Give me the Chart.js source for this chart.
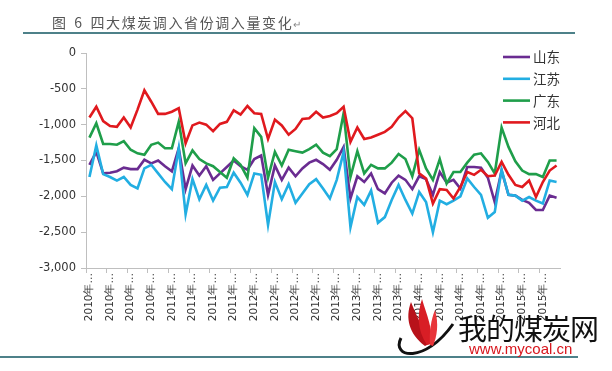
<!DOCTYPE html>
<html>
<head>
<meta charset="utf-8">
<script src="https://cdn.jsdelivr.net/npm/chart.js@4.4.1/dist/chart.umd.min.js"></script>
<style>
  html, body { margin: 0; padding: 0; background: #fff; }
  #wrap { position: relative; width: 612px; height: 371px; overflow: hidden; }
  #chart { position: absolute; left: 0; top: 0; }
  .title { position: absolute; left: 52px; top: 12px; font: 14px "Noto Sans CJK SC", sans-serif; color: #555; letter-spacing: 1.6px; word-spacing: 2px; white-space: nowrap; }
  .title span { font-size: 10px; color: #888; letter-spacing: 0; }
  .rule { position: absolute; height: 2px; background: #4d8189; }
  .mark { position: absolute; left: 458px; top: 306px; font: 29px "Noto Sans CJK SC", sans-serif; color: #111; letter-spacing: -1px; }
  .url { position: absolute; left: 469px; top: 340px; font: 15px "Liberation Sans", Arial, sans-serif; color: #d8151c; }
</style>
</head>
<body>
<div id="wrap">
  <canvas id="chart" width="612" height="371"></canvas>
  <div class="title">图 6 四大煤炭调入省份调入量变化<span>↵</span></div>
  <div class="rule" style="left:23px; top:32px; width:552px;"></div>
  <div class="rule" style="left:0; top:356px; width:578px;"></div>
  <svg style="position:absolute; left:395px; top:298px;" width="80" height="70">
    <path d="M6 40 C -4 60, 30 66, 58 26" stroke="#111" stroke-width="3" fill="none"/>
    <path d="M30 48 C 14 36, 10 20, 16 4 C 22 20, 30 32, 34 46 Z" fill="#b8121a"/>
    <path d="M32 47 C 22 32, 22 16, 27 1 C 32 18, 38 30, 36 46 Z" fill="#d81e25"/>
    <path d="M35 47 C 34 34, 36 22, 40 12 C 44 26, 42 38, 38 48 Z" fill="#e8353a"/>
  </svg>
  <div class="mark">我的煤炭网</div>
  <div class="url">www.mycoal.cn</div>
</div>
<script>
const categories = [
  '2010年1月', '2010年2月', '2010年3月', '2010年4月', '2010年5月', '2010年6月', '2010年7月', '2010年8月', '2010年9月', '2010年10月', '2010年11月', '2010年12月',
  '2011年1月', '2011年2月', '2011年3月', '2011年4月', '2011年5月', '2011年6月', '2011年7月', '2011年8月', '2011年9月', '2011年10月', '2011年11月', '2011年12月',
  '2012年1月', '2012年2月', '2012年3月', '2012年4月', '2012年5月', '2012年6月', '2012年7月', '2012年8月', '2012年9月', '2012年10月', '2012年11月', '2012年12月',
  '2013年1月', '2013年2月', '2013年3月', '2013年4月', '2013年5月', '2013年6月', '2013年7月', '2013年8月', '2013年9月', '2013年10月', '2013年11月', '2013年12月',
  '2014年1月', '2014年2月', '2014年3月', '2014年4月', '2014年5月', '2014年6月', '2014年7月', '2014年8月', '2014年9月', '2014年10月', '2014年11月', '2014年12月',
  '2015年1月', '2015年2月', '2015年3月', '2015年4月', '2015年5月', '2015年6月', '2015年7月', '2015年8月', '2015年9月'
];

const shandong = [
  -1560, -1380, -1680, -1670, -1650, -1600, -1620, -1620, -1490, -1540, -1500, -1580,
  -1650, -1330, -1900, -1570, -1710, -1580, -1770, -1680, -1590, -1500, -1580, -1630,
  -1480, -1430, -1980, -1570, -1770, -1600, -1720, -1610, -1530, -1490, -1550, -1630,
  -1490, -1310, -2030, -1720, -1800, -1680, -1900, -1960, -1810, -1710, -1770, -1900,
  -1720, -1760, -1980, -1660, -1810, -1770, -1890, -1590, -1590, -1600, -1740, -2080,
  -1640, -1980, -1990, -2050, -2090, -2190, -2190, -1990, -2020
];
const jiangsu = [
  -1730, -1290, -1690, -1730, -1780, -1730, -1840, -1890, -1610, -1560, -1680, -1800,
  -1900, -1330, -2250, -1760, -2040, -1840, -2060, -1880, -1870, -1670, -1810, -1980,
  -1680, -1700, -2400, -1800, -2040, -1830, -2090, -1960, -1830, -1760, -1890, -2030,
  -1770, -1380, -2430, -2010, -2120, -1920, -2370, -2290, -2050, -1840, -2050, -2240,
  -1940, -2080, -2500, -2060, -2110, -2060, -2000, -1750, -1870, -1980, -2300, -2220,
  -1630, -1980, -1990, -2060, -2010, -2060, -2100, -1780, -1800
];
const guangdong = [
  -1180, -980, -1270, -1270, -1280, -1230, -1350, -1400, -1420, -1280, -1250, -1330,
  -1330, -960, -1540, -1360, -1480, -1540, -1580, -1660, -1740, -1470, -1560, -1740,
  -1050, -1170, -1740, -1380, -1570, -1350, -1370, -1390, -1340, -1280, -1390, -1440,
  -1340, -840, -1730, -1370, -1680, -1560, -1610, -1610, -1530, -1410, -1480, -1720,
  -1350, -1610, -1770, -1480, -1820, -1660, -1660, -1530, -1420, -1400, -1520, -1680,
  -1040, -1310, -1510, -1640, -1690, -1690, -1730, -1500, -1500
];
const hebei = [
  -900, -750, -950, -1020, -1030, -900, -1040, -790, -520, -680, -850, -850,
  -820, -770, -1260, -1010, -970, -1000, -1090, -990, -960, -800, -860, -740,
  -840, -850, -1200, -930, -1010, -1140, -1060, -920, -910, -820, -900, -880,
  -840, -750, -1240, -1040, -1200, -1180, -1140, -1100, -1030, -900, -810, -910,
  -1680, -1750, -2100, -1900, -1910, -2030, -1870, -1660, -1700, -1630, -1720, -1710,
  -1520, -1700, -1840, -1870, -1780, -2010, -1800, -1640, -1570
];

const seriesNames = ['山东', '江苏', '广东', '河北'];
const seriesColors = ['#6a2c91', '#22aee2', '#1f9e4a', '#e0191e'];
const yTicks = { min: -3000, max: 0, step: 500 };

// legend drawn inside the plot, top right, like the Excel original
const insideLegend = {
  id: 'insideLegend',
  afterDraw(chart) {
    const ctx = chart.ctx;
    const x0 = 503, y0 = 57, gap = 21.8;
    ctx.save();
    chart.data.datasets.forEach((ds, i) => {
      const y = y0 + i * gap;
      ctx.strokeStyle = ds.borderColor;
      ctx.lineWidth = 2.6;
      ctx.beginPath();
      ctx.moveTo(x0, y);
      ctx.lineTo(x0 + 27, y);
      ctx.stroke();
      ctx.fillStyle = '#333';
      ctx.font = '13.5px "Noto Sans CJK SC", sans-serif';
      ctx.textBaseline = 'middle';
      ctx.fillText(ds.label, x0 + 30, y);
    });
    ctx.restore();
  }
};

const lists = [shandong, jiangsu, guangdong, hebei];

new Chart(document.getElementById('chart').getContext('2d'), {
  type: 'line',
  data: {
    labels: categories,
    datasets: lists.map((d, i) => ({
      label: seriesNames[i],
      data: d,
      borderColor: seriesColors[i],
      backgroundColor: seriesColors[i],
      borderWidth: 2.6,
      pointRadius: 0,
      tension: 0,
      fill: false,
      order: lists.length - i
    }))
  },
  options: {
    responsive: false,
    animation: false,
    layout: { padding: { top: 53, right: 52, left: 0, bottom: 0 } },
    plugins: { legend: { display: false }, tooltip: { enabled: false } },
    scales: {
      x: {
        type: 'category',
        offset: true,
        afterFit: (scale) => { scale.height = 103; },
        border: { color: '#bfbfbf', width: 1 },
        grid: {
          offset: true,
          drawOnChartArea: false,
          drawTicks: true,
          tickLength: 5,
          color: (c) => (c.index % 3 === 0 ? '#bfbfbf' : 'rgba(0,0,0,0)')
        },
        ticks: {
          autoSkip: false,
          minRotation: 90,
          maxRotation: 90,
          padding: 0,
          color: '#333',
          font: { family: 'DejaVu Sans', size: 10.5 },
          callback: function (v, i) {
            return i % 3 === 0 ? this.getLabelForValue(v).slice(0, 5) + '…' : '';
          }
        }
      },
      y: {
        min: yTicks.min,
        max: yTicks.max,
        afterFit: (scale) => { scale.width = 86; },
        border: { color: '#bfbfbf', width: 1 },
        grid: { drawOnChartArea: false, drawTicks: true, tickLength: 5, color: '#bfbfbf' },
        ticks: {
          stepSize: yTicks.step,
          padding: 5,
          color: '#333',
          font: { family: 'DejaVu Sans', size: 11.5 }
        }
      }
    }
  },
  plugins: [insideLegend]
});
</script>
</body>
</html>
